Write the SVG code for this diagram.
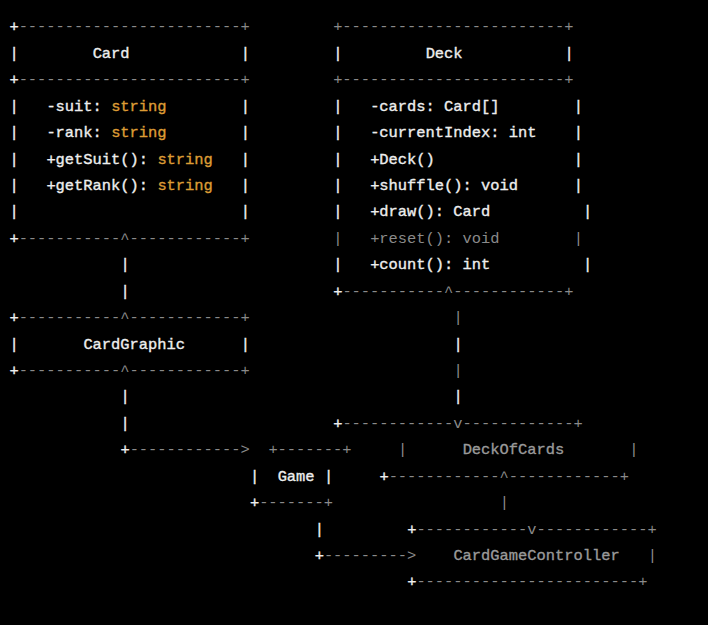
<svg xmlns="http://www.w3.org/2000/svg" width="708" height="625" viewBox="0 0 708 625">
<style>
text{font-family:"Liberation Mono","DejaVu Sans Mono",monospace;font-size:15.42px;white-space:pre;stroke-width:0.35px}
.w{fill:#eeeeee;stroke:#eeeeee}
.g{fill:#8a8a8a;stroke:none}
.t{fill:#9a9a9a;stroke:#9a9a9a}
.o{fill:#dd9c35;stroke:#dd9c35}
</style>
<rect width="708" height="625" fill="#000000"/>
<g id="card">
<text x="9.375" y="31.3"><tspan class="w">+</tspan><tspan class="g">------------------------+</tspan></text>
<text x="9.375" y="57.7" class="w">|</text><text x="92.625" y="57.7" class="w">Card</text><text x="240.625" y="57.7" class="w">|</text>
<text x="9.375" y="84.2"><tspan class="w">+</tspan><tspan class="g">------------------------+</tspan></text>
<text x="9.375" y="110.6" class="w">|</text><text x="46.375" y="110.6" class="w" xml:space="preserve">-suit: </text><text x="111.125" y="110.6" class="o">string</text><text x="240.625" y="110.6" class="w">|</text>
<text x="9.375" y="137.0" class="w">|</text><text x="46.375" y="137.0" class="w" xml:space="preserve">-rank: </text><text x="111.125" y="137.0" class="o">string</text><text x="240.625" y="137.0" class="w">|</text>
<text x="9.375" y="163.5" class="w">|</text><text x="46.375" y="163.5" class="w" xml:space="preserve">+getSuit(): </text><text x="157.375" y="163.5" class="o">string</text><text x="240.625" y="163.5" class="w">|</text>
<text x="9.375" y="189.9" class="w">|</text><text x="46.375" y="189.9" class="w" xml:space="preserve">+getRank(): </text><text x="157.375" y="189.9" class="o">string</text><text x="240.625" y="189.9" class="w">|</text>
<text x="9.375" y="216.3" class="w">|</text><text x="240.625" y="216.3" class="w">|</text>
<text x="9.375" y="242.7"><tspan class="w">+</tspan><tspan class="g">-----------^------------+</tspan></text>
</g>
<g id="deck">
<text x="333.125" y="31.3" class="g">+------------------------+</text>
<text x="333.125" y="57.7" class="w">|</text><text x="425.625" y="57.7" class="w">Deck</text><text x="564.375" y="57.7" class="w">|</text>
<text x="333.125" y="84.2" class="g">+------------------------+</text>
<text x="333.125" y="110.6" class="w">|</text><text x="370.125" y="110.6" class="w">-cards: Card[]</text><text x="573.625" y="110.6" class="w">|</text>
<text x="333.125" y="137.0" class="w">|</text><text x="370.125" y="137.0" class="w">-currentIndex: int</text><text x="573.625" y="137.0" class="w">|</text>
<text x="333.125" y="163.5" class="w">|</text><text x="370.125" y="163.5" class="w">+Deck()</text><text x="573.625" y="163.5" class="w">|</text>
<text x="333.125" y="189.9" class="w">|</text><text x="370.125" y="189.9" class="w">+shuffle(): void</text><text x="573.625" y="189.9" class="w">|</text>
<text x="333.125" y="216.3" class="w">|</text><text x="370.125" y="216.3" class="w">+draw(): Card</text><text x="582.875" y="216.3" class="w">|</text>
<text x="333.125" y="242.7" class="g">|</text><text x="370.125" y="242.7" class="g">+reset(): void</text><text x="573.625" y="242.7" class="g">|</text>
<text x="333.125" y="269.2" class="w">|</text><text x="370.125" y="269.2" class="w">+count(): int</text><text x="582.875" y="269.2" class="w">|</text>
<text x="333.125" y="295.6"><tspan class="w">+</tspan><tspan class="g">-----------^------------+</tspan></text>
</g>
<g id="cardgraphic">
<text x="9.375" y="322.0"><tspan class="w">+</tspan><tspan class="g">-----------^------------+</tspan></text>
<text x="9.375" y="348.5" class="w">|</text><text x="83.375" y="348.5" class="w">CardGraphic</text><text x="240.625" y="348.5" class="w">|</text>
<text x="9.375" y="374.9"><tspan class="w">+</tspan><tspan class="g">-----------^------------+</tspan></text>
</g>
<g id="game">
<text x="268.375" y="454.2" class="g">+-------+</text>
<text x="249.875" y="480.6" class="w">|</text><text x="277.625" y="480.6" class="w">Game</text><text x="323.875" y="480.6" class="w">|</text>
<text x="249.875" y="507.0"><tspan class="w">+</tspan><tspan class="g">-------+</tspan></text>
</g>
<g id="deckofcards">
<text x="333.125" y="427.8"><tspan class="w">+</tspan><tspan class="g">------------v------------+</tspan></text>
<text x="397.875" y="454.2" class="g">|</text><text x="462.625" y="454.2" class="t">DeckOfCards</text><text x="629.125" y="454.2" class="g">|</text>
<text x="379.375" y="480.6"><tspan class="w">+</tspan><tspan class="g">------------^------------+</tspan></text>
</g>
<g id="cardgamecontroller">
<text x="407.125" y="533.5"><tspan class="w">+</tspan><tspan class="g">------------v------------+</tspan></text>
<text x="453.375" y="559.9" class="t">CardGameController</text><text x="647.625" y="559.9" class="g">|</text>
<text x="407.125" y="586.3"><tspan class="w">+</tspan><tspan class="g">------------------------+</tspan></text>
</g>
<g id="connectors">
<text x="120.375" y="269.2" class="w">|</text>
<text x="120.375" y="295.6" class="w">|</text>
<text x="120.375" y="401.3" class="w">|</text>
<text x="120.375" y="427.8" class="w">|</text>
<text x="120.375" y="454.2"><tspan class="w">+</tspan><tspan class="g">------------&gt;</tspan></text>
<text x="453.375" y="322.0" class="g">|</text>
<text x="453.375" y="348.5" class="w">|</text>
<text x="453.375" y="374.9" class="g">|</text>
<text x="453.375" y="401.3" class="w">|</text>
<text x="499.625" y="507.0" class="g">|</text>
<text x="314.625" y="533.5" class="w">|</text>
<text x="314.625" y="559.9"><tspan class="w">+</tspan><tspan class="g">---------&gt;</tspan></text>
</g>
</svg>
